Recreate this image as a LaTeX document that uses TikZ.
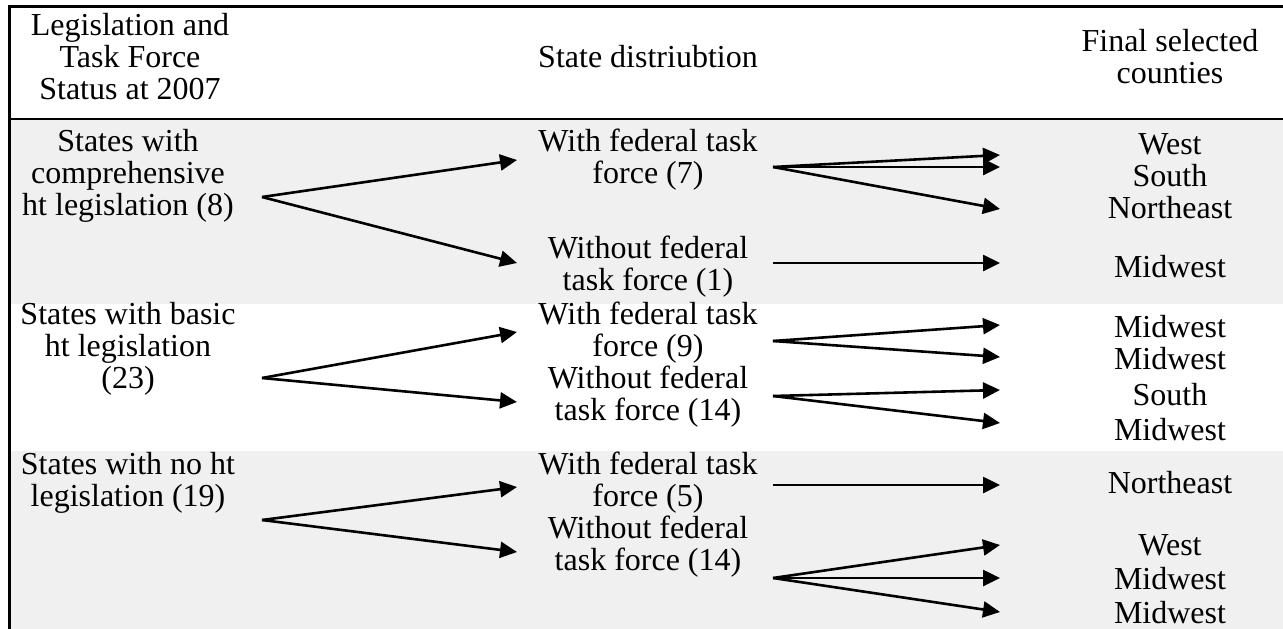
\documentclass[tikz,border=0pt]{standalone}
\usepackage{fontspec}
\setmainfont{Liberation Serif}
\usetikzlibrary{arrows.meta}
\definecolor{bandgray}{RGB}{240,240,240}
\begin{document}
\begin{tikzpicture}[x=1pt,y=-1pt,
  txt/.style={align=center,font=\fontsize{32}{32}\selectfont,inner sep=0pt},
  arr/.style={line width=2.6pt,-{Triangle[length=17pt,width=16pt]}},
  rule/.style={line width=3pt}]
\useasboundingbox (0,0) rectangle (1283,629);
\fill[bandgray] (9,119) rectangle (1283,304);
\fill[bandgray] (9,451) rectangle (1283,629);
\draw[rule] (9,6) -- (1283,6);
\draw[rule] (9,4.5) -- (9,629);
\draw[line width=2.5pt] (9,119) -- (1283,119);
% header
\node[txt] (h1) at (130,57) {Legislation and\\Task Force\\Status at 2007};
\node[txt] (h2) at (648,57) {State distriubtion};
\node[txt] (h3) at (1170,57) {Final selected\\counties};
% band 1
\node[txt] (a1) at (128,176) {States with\\comprehensive\\ht legislation (8)};
\node[txt] (a2) at (648,160) {With federal task\\force (7)};
\node[txt] (a3) at (648,267) {Without federal\\task force (1)};
\node[txt] (r1) at (1170,144) {West};
\node[txt] (r2) at (1170,176) {South};
\node[txt] (r3) at (1170,208) {Northeast};
\node[txt] (r4) at (1170,267) {Midwest};
% band 2
\node[txt] (b1) at (128,349) {States with basic\\ht legislation\\(23)};
\node[txt] (b2) at (648,333) {With federal task\\force (9)};
\node[txt] (b3) at (648,397) {Without federal\\task force (14)};
\node[txt] (r5) at (1170,327) {Midwest};
\node[txt] (r6) at (1170,359) {Midwest};
\node[txt] (r7) at (1170,395) {South};
\node[txt] (r8) at (1170,430) {Midwest};
% band 3
\node[txt] (c1) at (128,483) {States with no ht\\legislation (19)};
\node[txt] (c2) at (648,483) {With federal task\\force (5)};
\node[txt] (c3) at (648,547) {Without federal\\task force (14)};
\node[txt] (r9) at (1170,483) {Northeast};
\node[txt] (r10) at (1170,545) {West};
\node[txt] (r11) at (1170,579) {Midwest};
\node[txt] (r12) at (1170,613) {Midwest};
% connector end points
\coordinate (sa1) at (262,197);
\coordinate (ta2) at (517,160);
\coordinate (ta3) at (517,263);
\coordinate (sa2) at (773,167);
\coordinate (tr1) at (1000,155);
\coordinate (tr2) at (1000,167);
\coordinate (tr3) at (1000,209);
\coordinate (sa3) at (773,263);
\coordinate (tr4) at (1000,263);
\coordinate (sb1) at (262,378);
\coordinate (tb2) at (517,332);
\coordinate (tb3) at (517,402);
\coordinate (sb2) at (773,341);
\coordinate (tr5) at (1000,325);
\coordinate (tr6) at (1000,357);
\coordinate (sb3) at (773,396);
\coordinate (tr7) at (1000,390);
\coordinate (tr8) at (1000,423);
\coordinate (sc1) at (262,520);
\coordinate (tc2) at (517,487);
\coordinate (tc3) at (517,552);
\coordinate (sc2) at (773,485);
\coordinate (tr9) at (1000,485);
\coordinate (sc3) at (773,578);
\coordinate (tr10) at (1000,545);
\coordinate (tr11) at (1000,578);
\coordinate (tr12) at (1000,612);
% arrows
\draw[arr] (sa1) -- (ta2);
\draw[arr] (sa1) -- (ta3);
\draw[arr] (sa2) -- (tr1);
\draw[arr] (sa2) -- (tr2);
\draw[arr] (sa2) -- (tr3);
\draw[arr] (sa3) -- (tr4);
\draw[arr] (sb1) -- (tb2);
\draw[arr] (sb1) -- (tb3);
\draw[arr] (sb2) -- (tr5);
\draw[arr] (sb2) -- (tr6);
\draw[arr] (sb3) -- (tr7);
\draw[arr] (sb3) -- (tr8);
\draw[arr] (sc1) -- (tc2);
\draw[arr] (sc1) -- (tc3);
\draw[arr] (sc2) -- (tr9);
\draw[arr] (sc3) -- (tr10);
\draw[arr] (sc3) -- (tr11);
\draw[arr] (sc3) -- (tr12);
\end{tikzpicture}
\end{document}
